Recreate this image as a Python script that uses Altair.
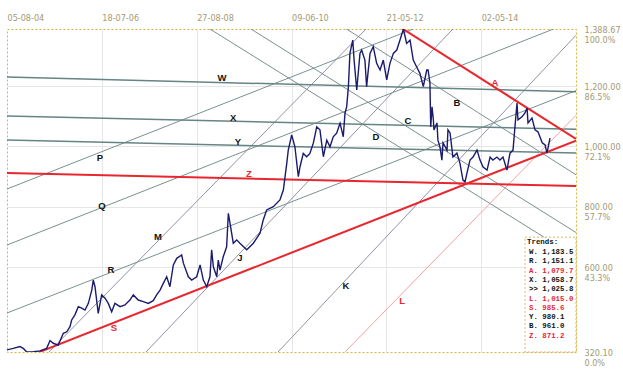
import altair as alt
import pandas as pd

# ---------------- data ----------------
T_MAX = 3000  # session index covered by the plot
date_ticks = [0, 500, 1000, 1500, 2000, 2500]
date_labels = ["05-08-04", "18-07-06", "27-08-08", "09-06-10", "21-05-12", "02-05-14"]

y_ticks = [1388.67, 1200.0, 1000.0, 800.0, 600.0, 320.10]
y_value_labels = ["1,388.67", "1,200.00", "1,000.00", "800.00", "600.00", "320.10"]
y_pct_labels = ["100.0%", "86.5%", "72.1%", "57.7%", "43.3%", "0.0%"]
Y_MIN, Y_MAX = 320.10, 1388.67

price_t = [0, 33, 68, 86, 104, 139, 174, 209, 227, 244, 270, 297, 315, 332, 341, 358, 376, 394, 411, 429,
           447, 455, 464, 481, 499, 517, 534, 552, 569, 596, 622, 648, 666, 692, 719, 745, 771, 789, 807, 824,
           842, 859, 877, 895, 921, 930, 956, 974, 1000, 1018, 1035, 1053, 1070, 1079, 1088, 1106, 1114, 1123, 1140, 1158,
           1167, 1176, 1193, 1211, 1228, 1264, 1299, 1334,
           1351, 1369, 1404, 1439, 1457, 1475, 1483, 1501, 1518, 1536, 1545, 1562, 1580, 1597, 1615, 1633,
           1650, 1668, 1686, 1703, 1720, 1738, 1756, 1773, 1782, 1791, 1800, 1808, 1823, 1830, 1844, 1861,
           1870, 1887, 1896, 1914, 1931, 1949, 1967, 1984, 2002, 2019, 2037, 2055, 2072, 2090, 2107, 2125,
           2142, 2160, 2177, 2195, 2213, 2220, 2230, 2234, 2241, 2248, 2251, 2267, 2272, 2283, 2293, 2299,
           2320, 2325, 2336, 2351, 2372, 2388, 2404, 2415, 2425, 2441, 2457, 2478, 2494, 2510, 2531, 2547,
           2562, 2583, 2599, 2615, 2636, 2652, 2668, 2678, 2689, 2694, 2715, 2731, 2742, 2747, 2768, 2784,
           2800, 2822, 2837, 2847, 2863]
price_v = [327, 332, 338, 332, 320.1, 321, 324, 332, 358, 349, 343, 382, 387, 404, 426, 443, 470, 465, 459, 481,
           525, 558, 536, 448, 509, 498, 481, 453, 481, 470, 476, 492, 509, 492, 487, 481, 490, 509, 525, 547,
           569, 536, 608, 630, 641, 614, 569, 558, 569, 608, 558, 536, 569, 658, 602, 569, 624, 591, 635, 668,
           779, 746, 680, 691, 680, 658, 680, 713,
           757, 790, 801, 823, 856, 944, 988, 1038, 999, 900, 933, 977, 966, 977, 1011, 1065,
           1055, 966, 1021, 999, 1032, 1044, 1077, 1032, 1110, 1132, 1198, 1308, 1352, 1286, 1187, 1308,
           1319, 1286, 1198, 1308, 1330, 1275, 1253, 1286, 1220, 1275, 1308, 1319, 1352, 1388.67, 1341, 1352,
           1286, 1263, 1242, 1198, 1253, 1253, 1210, 1065, 1131, 1088, 1055, 1078, 1021, 998, 955, 1012,
           988, 1055, 1045, 965, 978, 945, 889, 883, 912, 955, 965, 988, 955, 932, 922, 965,
           955, 965, 955, 965, 922, 978, 988, 1064, 1144, 1088, 1098, 1111, 1127, 1078, 1094, 1055,
           1048, 1012, 1005, 978, 1028]

# trend lines: two points each (session, value)
line_names = ["P", "Q", "R", "S", "M", "J", "K", "L", "A", "B", "C", "D", "W", "X", "Y", "Z"]
line_t1 = [0, 0, 0, 158, 216, 728, 1429, 1782, 2088, 1790, 1286, 1070, 0, 0, 0, 0]
line_v1 = [859.3, 674.0, 449.1, 316.8, 316.8, 316.8, 320.1, 320.1, 1388.7, 1388.7, 1388.7, 1388.7,
           1229.9, 1100.9, 1021.4, 912.3]
line_t2 = [2141, 2868, 2863, 2863, 1888, 2346, 3026, 2863, 2863, 2863, 3000, 3000, 2863, 2863, 2863, 2863]
line_v2 = [1388.7, 1385.4, 1151.1, 985.6, 1385.4, 1385.4, 1385.4, 1015.0, 1079.7, 961.0, 715.4, 634.0,
           1183.5, 1058.7, 980.1, 871.2]

# where each trend letter is written
label_t = [490, 501, 548, 564, 796, 1228, 1787, 2083, 2573, 2372, 2114, 1945, 1134, 1192, 1218, 1276]
label_v = [962, 803, 591, 400, 700, 631, 538, 489, 1210, 1144, 1084, 1031, 1227, 1094, 1014, 909]

# trends box
legend_names = ["W.", "R.", "A.", "X.", ">>", "L.", "S.", "Y.", "B.", "Z."]
legend_values = [1183.5, 1151.1, 1079.7, 1058.7, 1025.8, 1015.0, 985.6, 980.1, 961.0, 871.2]
legend_red = ["A.", "L.", "S.", "Z."]

# ---------------- styles ----------------
RED = "#e8262e"
groups = [  # (members, colour, width)
    (["P", "Q", "R", "B", "C", "D"], "#7a9090", 1.0),
    (["M", "J", "K"], "#86869a", 0.9),
    (["W", "X", "Y"], "#658484", 1.5),
    (["L"], "#f2a0a8", 1.0),
    (["S", "Z", "A"], RED, 2.0),
]
red_names = ["S", "Z", "A", "L"]

# ---------------- frames ----------------
price_df = pd.DataFrame({"t": price_t, "v": price_v})

rows = []
for n, t1, v1, t2, v2 in zip(line_names, line_t1, line_v1, line_t2, line_v2):
    k = (v2 - v1) / (t2 - t1)
    for t in (0, T_MAX):
        rows.append({"name": n, "t": t, "v": v1 + k * (t - t1)})
lines_df = pd.DataFrame(rows)

lab_df = pd.DataFrame({"lab": line_names, "t": label_t, "v": label_v,
                       "kind": ["red" if n in red_names else "black" for n in line_names]})

x_scale = alt.Scale(domain=[0, T_MAX], nice=False, zero=False)
y_scale = alt.Scale(domain=[Y_MIN, Y_MAX], nice=False, zero=False)

date_expr = "''"
for tv, lb in reversed(list(zip(date_ticks, date_labels))):
    date_expr = f"datum.value == {tv} ? '{lb}' : {date_expr}"
y_expr = "''"
for yv, a, b in reversed(list(zip(y_ticks, y_value_labels, y_pct_labels))):
    y_expr = f"abs(datum.value - {yv}) < 0.01 ? ['{a}', '{b}'] : {y_expr}"

AX_FONT = "Liberation Sans Narrow, DejaVu Sans Condensed, Arial Narrow, sans-serif"
AX_COLOR = "#a39a74"

x_axis = alt.Axis(orient="top", values=date_ticks, labelExpr=date_expr, labelAlign="left",
                  labelBaseline="bottom", labelPadding=7, ticks=False, domain=False,
                  labelFont=AX_FONT, labelFontSize=9, labelColor=AX_COLOR, title=None,
                  labelFlush=False, labelOverlap=False,
                  grid=True, gridColor={"condition": {"test": "datum.value == 0", "value": "transparent"},
                                        "value": "#e6e6e6"})
y_axis = alt.Axis(orient="right", values=y_ticks, labelExpr=y_expr, labelAlign="left",
                  labelBaseline="middle", labelPadding=8, ticks=False, domain=False,
                  labelFont=AX_FONT, labelFontSize=9, labelColor=AX_COLOR, labelLineHeight=10,
                  title=None, labelFlush=False, labelOverlap=False,
                  grid=True, gridColor={"condition": {"test": "datum.value < 321 || datum.value > 1388",
                                                      "value": "transparent"},
                                        "value": "#e6e6e6"})


def X(field="t:Q"):
    return alt.X(field, scale=x_scale, axis=x_axis)


def Y(field="v:Q"):
    return alt.Y(field, scale=y_scale, axis=y_axis)


layers = []
for members, col, w in groups:
    layers.append(
        alt.Chart(lines_df).transform_filter(
            alt.FieldOneOfPredicate(field="name", oneOf=members)
        ).mark_line(clip=True, color=col, strokeWidth=w).encode(x=X(), y=Y(), detail="name:N")
    )

price = alt.Chart(price_df).mark_line(color="#1b1b6e", strokeWidth=1.4, clip=True).encode(x=X(), y=Y())

labels = alt.Chart(lab_df).mark_text(font="Liberation Sans, Arial, sans-serif", fontSize=9.5,
                                     fontWeight="bold").encode(
    x=X(), y=Y(), text="lab:N",
    color=alt.Color("kind:N", scale=alt.Scale(domain=["black", "red"], range=["#111111", RED]),
                    legend=None),
)

# trends box (positioned in data units at the lower right corner)
box_df = pd.DataFrame({"t": [2731], "t2": [T_MAX], "v": [Y_MIN], "v2": [700.0]})
box = alt.Chart(box_df).mark_rect(fill="white", stroke="#eab060", strokeDash=[2, 2],
                                  strokeWidth=1).encode(x=X(), x2="t2:Q", y=Y(), y2="v2:Q")

row_step = 30.8
leg_rows = [{"txt": "Trends:", "t": 2742, "v": 684.0, "kind": "black"}]
for i, (n, val) in enumerate(zip(legend_names, legend_values)):
    leg_rows.append({"txt": f"{n} {val:>7,.1f}", "t": 2752, "v": 651.0 - row_step * i,
                     "kind": "red" if n in legend_red else "black"})
leg_df = pd.DataFrame(leg_rows)
leg_text = alt.Chart(leg_df).mark_text(font="Liberation Mono, DejaVu Sans Mono, monospace", fontSize=7.4,
                                       fontWeight="bold", align="left", baseline="middle").encode(
    x=X(), y=Y(), text="txt:N",
    color=alt.Color("kind:N", scale=alt.Scale(domain=["black", "red"], range=["#111111", RED]),
                    legend=None),
)

chart = alt.layer(*layers, price, labels, box, leg_text).properties(
    width=569, height=323,
    autosize=alt.AutoSizeParams(type="none"),
    padding={"left": 7, "top": 29, "right": 47, "bottom": 28},
    background="white",
).configure_view(stroke="#dcb43c", strokeDash=[2, 2], strokeWidth=1)

chart.save("out.html", embed_options={"renderer": "svg", "actions": False})
